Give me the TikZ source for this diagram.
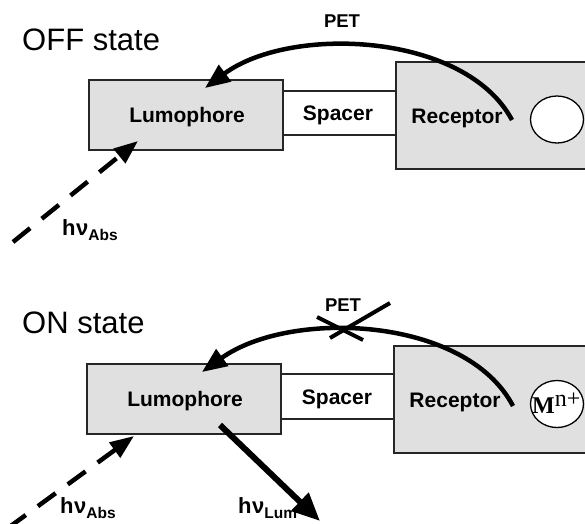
\documentclass[tikz,border=0pt]{standalone}
\usepackage{fontspec}
\setmainfont{Liberation Sans}
\newfontfamily\serifM{Liberation Serif}
\usetikzlibrary{arrows.meta,shapes.geometric}
\newcommand{\hvsub}[1]{h\kern0.5pt ν\raisebox{-5pt}{\fontsize{15.5}{17}\selectfont\bfseries #1}}
\begin{document}
\begin{tikzpicture}[x=1pt,y=-1pt,
  box/.style={draw=black!85, line width=1.3pt, fill=black!12, inner sep=0pt},
  ion/.style={draw=black, line width=1.3pt, fill=white, ellipse, inner sep=0pt, minimum width=53pt, minimum height=47pt},
  spc/.style={draw=black!85, line width=1.3pt},
  lbl/.style={font=\fontsize{21}{24}\selectfont\bfseries, inner sep=0pt, anchor=base},
  state/.style={font=\fontsize{31}{36}\selectfont, inner sep=0pt, anchor=base west},
  petlbl/.style={font=\fontsize{18.5}{22}\selectfont\bfseries, inner sep=0pt, anchor=base},
  hv/.style={font=\fontsize{22}{25}\selectfont\bfseries, inner sep=0pt, anchor=base west},
  pet/.style={line width=4.5pt, -{Triangle[length=25pt,width=20pt]}},
  absarr/.style={line width=4.5pt, dash pattern=on 22pt off 15pt, -{Triangle[length=24pt,width=18pt]}},
  lumarr/.style={line width=6pt, -{Triangle[length=28pt,width=24pt]}},
  cross/.style={line width=4pt}
]
\clip (0,0) rectangle (585,523);
\fill[white] (0,0) rectangle (585,523);

% ---------------- OFF state ----------------
\node[state] (offlbl) at (22,50) {OFF state};
\node[box, minimum width=194pt, minimum height=70pt] (lumA) at (186,115) {};
\node[box, minimum width=210pt, minimum height=107pt] (recA) at (501,115.5) {};
\draw[spc] ([yshift=24pt]lumA.east) -- ([yshift=24pt]lumA.east -| recA.west);
\draw[spc] ([yshift=-20pt]lumA.east) -- ([yshift=-20pt]lumA.east -| recA.west);
\node[lbl] (lumAt) at (187,122) {Lumophore};
\node[lbl] (spcAt) at (338,120) {Spacer};
\node[lbl] (recAt) at (457,123) {Receptor};
\node[ion] (ionA) at (557,119.5) {};
\node[petlbl] (petAt) at (342,27) {PET};
\coordinate (petA0) at (512,120);
\coordinate (petA1) at (205,88);
\draw[pet] (petA0) .. controls (465,32) and (290,25) .. (petA1);
\coordinate (absA0) at (13,242);
\coordinate (absA1) at (138,141);
\draw[absarr] (absA0) -- (absA1);
\node[hv] (hvA) at (62,235) {\hvsub{Abs}};

% ---------------- ON state ----------------
\node[state] (onlbl) at (22,333) {ON state};
\node[box, minimum width=194pt, minimum height=70pt] (lumB) at (184,399) {};
\node[box, minimum width=210pt, minimum height=107pt] (recB) at (499,399.5) {};
\draw[spc] ([yshift=25pt]lumB.east) -- ([yshift=25pt]lumB.east -| recB.west);
\draw[spc] ([yshift=-20pt]lumB.east) -- ([yshift=-20pt]lumB.east -| recB.west);
\node[lbl] (lumBt) at (185,406) {Lumophore};
\node[lbl] (spcBt) at (337,404) {Spacer};
\node[lbl] (recBt) at (455,407) {Receptor};
\node[ion] (ionB) at (557,404) {};
\node[inner sep=0pt, anchor=base west, font=\serifM\fontsize{24}{28}\selectfont] (mB) at (532,413) {\textbf{M}\raisebox{7pt}{n+}};
\node[petlbl] (petBt) at (343,311) {PET};
\coordinate (petB0) at (513,406);
\coordinate (petB1) at (202,372);
\draw[pet] (petB0) .. controls (466,316) and (290,309) .. (petB1);
\coordinate (xB1) at (317,317);
\coordinate (xB2) at (363,340);
\coordinate (xB3) at (330,338);
\coordinate (xB4) at (390,303);
\draw[cross] (xB1) -- (xB2);
\draw[cross] (xB3) -- (xB4);
\coordinate (absB0) at (8,528);
\coordinate (absB1) at (134,436);
\draw[absarr] (absB0) -- (absB1);
\node[hv] (hvB) at (60,513) {\hvsub{Abs}};
\node[hv] (hvL) at (238,513) {\hvsub{Lum}};
\coordinate (lumB0) at (220,425);
\coordinate (lumB1) at (320,521);
\draw[lumarr] (lumB0) -- (lumB1);
\end{tikzpicture}
\end{document}
